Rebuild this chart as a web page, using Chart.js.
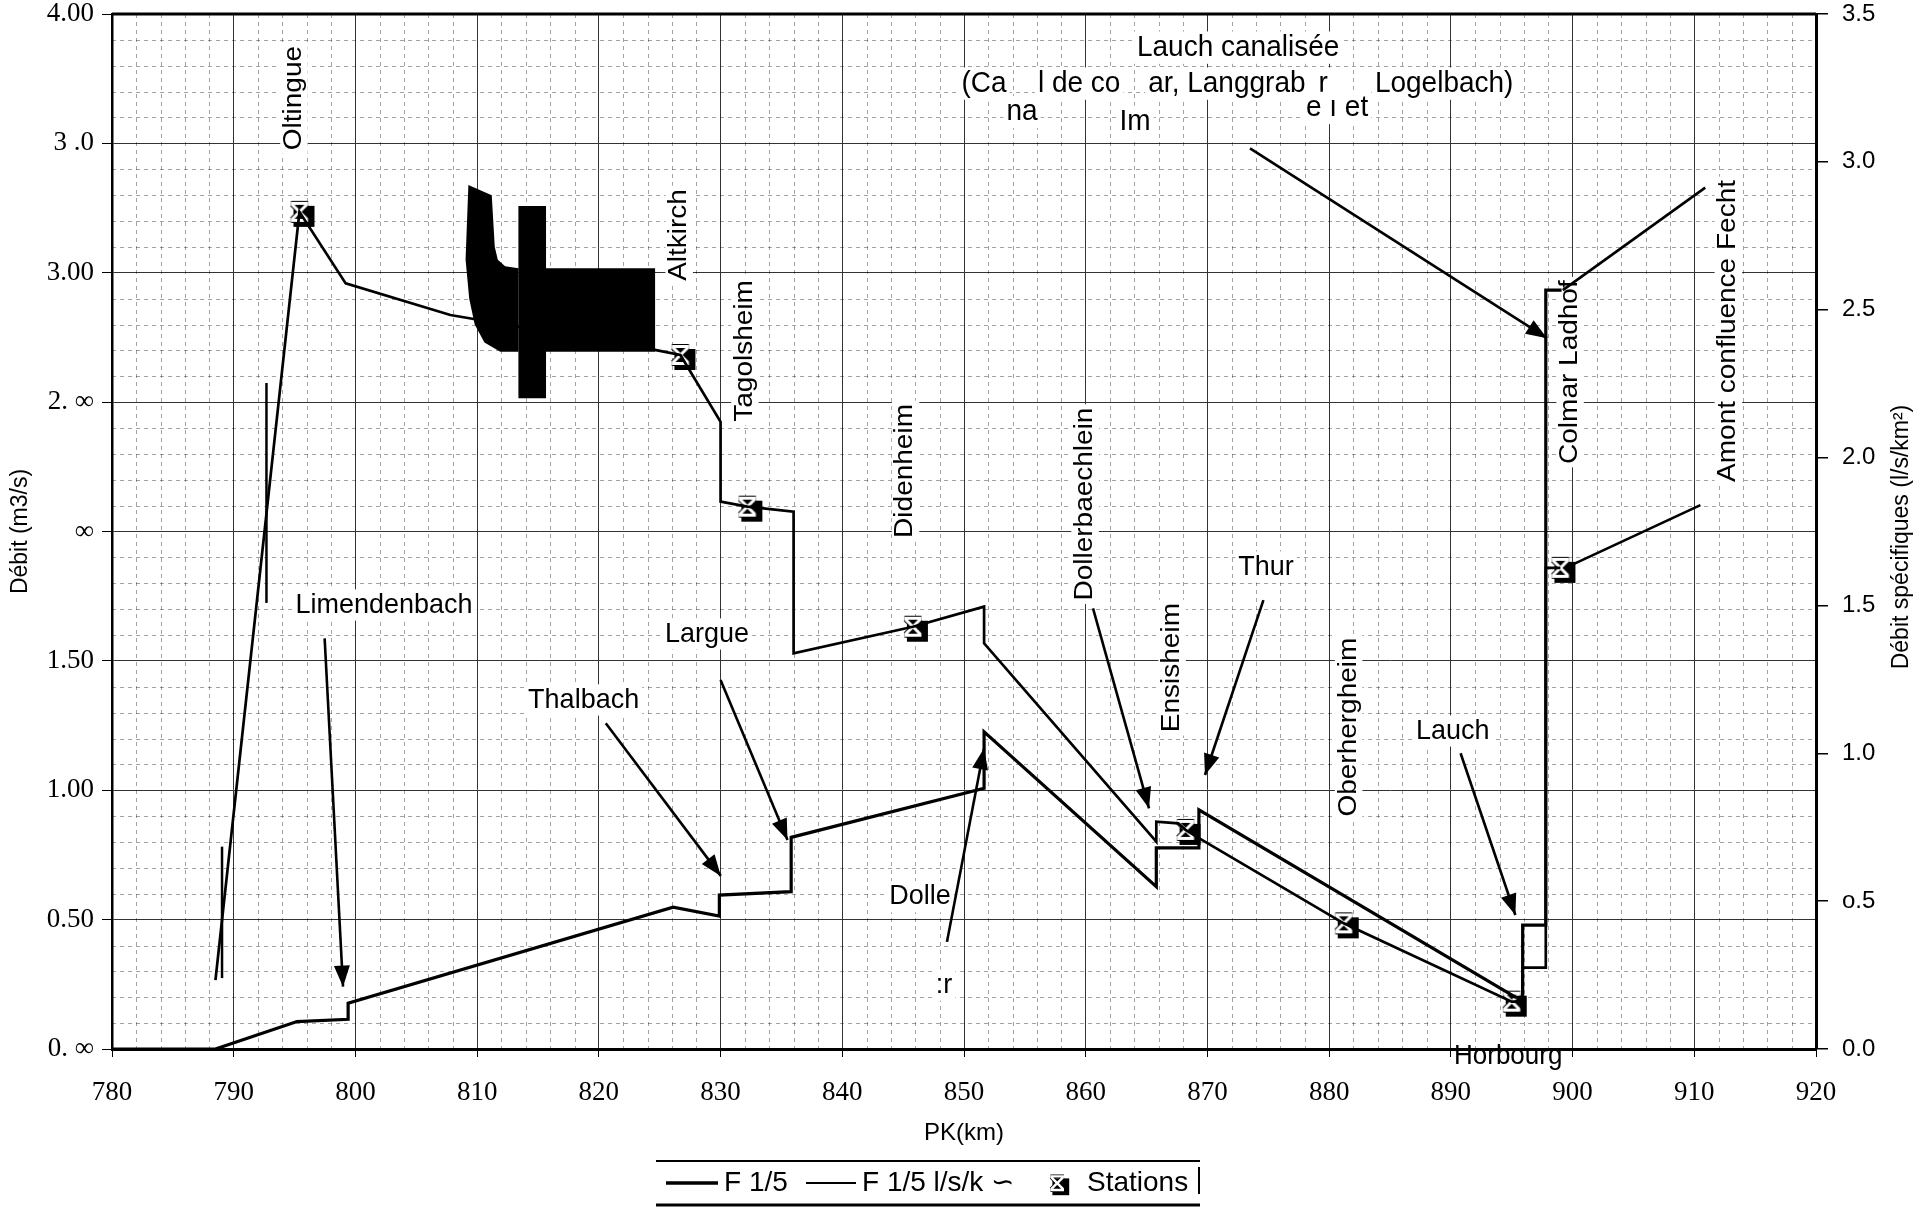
<!DOCTYPE html>
<html>
<head>
<meta charset="utf-8">
<script src="https://cdn.jsdelivr.net/npm/chart.js@4.4.1/dist/chart.umd.min.js"></script>
<style>
  html, body { margin: 0; padding: 0; background: #fff; }
  #wrap { width: 1923px; height: 1210px; }
</style>
</head>
<body>
<div id="wrap"><canvas id="chart" width="1923" height="1210"></canvas></div>
<script>
// F 1/5 en m3/s (axe de gauche)
const kmDebit = [780, 788.5, 795.2, 799.4, 799.4, 826.1, 829.9, 829.9, 835.8, 835.8, 851.65, 851.65, 865.8, 865.8, 869.3, 869.3, 895.3, 895.9, 895.9, 897.8, 897.8, 899.1];
const debit   = [0, 0, 0.106, 0.115, 0.177, 0.548, 0.514, 0.595, 0.608, 0.818, 1.008, 1.226, 0.627, 0.777, 0.777, 0.924, 0.20, 0.20, 0.479, 0.479, 2.933, 2.933];

// F 1/5 en l/s/km2 (axe de droite)
const kmSpec = [788.5, 795.4, 799.2, 807.8, 824.6, 826.7, 830.0, 830.0, 832.2, 836.0, 836.0, 845.8, 851.65, 851.65, 865.8, 865.8, 867.6, 868.2, 869.3, 881.2, 895.0, 895.9, 895.9, 897.8, 897.8, 899.0];
const debitSpec = [0.233, 2.831, 2.589, 2.482, 2.364, 2.347, 2.121, 1.851, 1.834, 1.817, 1.338, 1.428, 1.496, 1.372, 0.701, 0.769, 0.763, 0.741, 0.713, 0.425, 0.160, 0.160, 0.275, 0.275, 1.627, 1.627];

// stations
const stationNames = ['Oltingue', 'Altkirch', 'Tagolsheim', 'Didenheim', 'Ensisheim', 'Oberhergheim', 'Horbourg', 'Colmar Ladhof'];
const stationKm = [795.4, 826.7, 832.2, 845.8, 868.2, 881.2, 895.0, 899.0];
const stationVal = [2.831, 2.347, 1.834, 1.428, 0.741, 0.425, 0.160, 1.627];

// tick labels as printed
const leftTicks = ['0. ∞', '0.50', '1.00', '1.50', '∞', '2. ∞', '3.00', '3 .0', '4.00'];
const rightTicks = ['0.0', 'o.5', '1.0', '1.5', '2.0', '2.5', '3.0', '3.5'];

// vertical labels (km, m3/s)
const vLabels = ['Oltingue', 'Altkirch', 'Tagolsheim', 'Didenheim', 'Dollerbaechlein', 'Ensisheim', 'Oberhergheim', 'Colmar Ladhof', 'Amont confluence Fecht'];
const vLabelKm = [794.95, 826.6, 832.0, 845.2, 859.95, 867.1, 881.6, 899.8, 912.8];
const vLabelVal = [3.675, 3.146, 2.698, 2.234, 2.106, 1.474, 1.244, 2.616, 2.775];

// horizontal labels (km, m3/s)
const hLabels = ['Limendenbach', 'Thalbach', 'Largue', 'Dolle', ':r', 'Thur', 'Lauch', 'Lauch canalisée', '(Ca', 'l de co', 'ar, Langgrab', 'r', 'Logelbach)', 'na', 'Im', 'e ı et'];
const hLabelKm = [802.35, 818.75, 828.89, 846.39, 848.36, 874.82, 890.15, 872.52, 851.65, 859.46, 871.6, 879.5, 889.45, 854.77, 864.06, 880.65];
const hLabelVal = [1.716, 1.349, 1.604, 0.589, 0.247, 1.863, 1.229, 3.870, 3.731, 3.731, 3.731, 3.731, 3.731, 3.621, 3.583, 3.637];

// arrows [km, v] -> [km, v], head at the second point
const arrowsFrom = [[797.47, 1.587], [820.57, 1.259], [830.0, 1.426], [848.6, 0.414], [860.6, 1.703], [874.6, 1.735], [890.8, 1.143], [873.5, 3.481]];
const arrowsTo   = [[798.98, 0.241], [830.02, 0.669], [835.5, 0.808], [851.65, 1.162], [865.2, 0.930], [869.8, 1.059], [895.3, 0.518], [897.9, 2.747]];
// plain pointer lines (Amont confluence Fecht)
const pointersFrom = [[910.9, 3.329], [910.5, 2.102]];
const pointersTo   = [[899.2, 2.933], [899.9, 1.870]];

// scan blot and stray strokes
const blotShapes = [
  [[809.28, 3.339], [811.2, 3.30], [811.45, 3.10], [811.7, 3.05], [812.3, 3.025], [813.4, 3.017], [813.4, 2.695], [811.9, 2.695], [810.6, 2.73], [809.8, 2.80], [809.35, 2.90], [809.05, 3.05]],
  [[815.58, 3.017], [824.62, 3.017], [824.62, 2.695], [815.58, 2.695]],
  [[813.39, 3.258], [815.66, 3.258], [815.66, 2.515], [813.39, 2.515]]
];
const strayStrokes = [[792.69, 2.574, 1.724], [789.04, 0.782, 0.274]];

const SANS = '"Liberation Sans", Arial, sans-serif';
const SERIF = '"Liberation Serif", "Times New Roman", serif';

function makeMarker(scale) {
  const s = scale || 1;
  const c = document.createElement('canvas');
  c.width = Math.round(38 * s); c.height = Math.round(38 * s);
  const g = c.getContext('2d');
  g.scale(s, s);
  g.fillStyle = '#000';
  g.fillRect(13, 13, 21, 21);
  const cx = 19, cy = 19, arm = 7.5;
  const drawX = (w, col) => {
    g.strokeStyle = col; g.lineWidth = w;
    g.beginPath();
    g.moveTo(cx - arm, cy - arm); g.lineTo(cx + arm, cy + arm);
    g.moveTo(cx + arm, cy - arm); g.lineTo(cx - arm, cy + arm);
    g.moveTo(cx - arm - 1, cy - arm - 1); g.lineTo(cx + arm + 1, cy - arm - 1);
    g.moveTo(cx - arm - 1, cy + arm + 1); g.lineTo(cx + arm + 1, cy + arm + 1);
    g.stroke();
  };
  drawX(5, '#000');
  drawX(3, '#fff');
  return c;
}
const markerImg = makeMarker(1);
const legendMarker = makeMarker(0.8);

function textWithBox(ctx, txt, x, y, rotated, size, box, stretch) {
  ctx.save();
  ctx.translate(x, y);
  ctx.scale(1, stretch);
  if (rotated) ctx.rotate(-Math.PI / 2);
  ctx.font = size + 'px ' + SANS;
  ctx.textAlign = 'center';
  ctx.textBaseline = 'middle';
  const w = ctx.measureText(txt).width;
  if (box) {
    ctx.fillStyle = '#fff';
    ctx.fillRect(-w / 2 - 3, -size * 0.55, w + 6, size * 1.1);
  }
  ctx.fillStyle = '#000';
  ctx.fillText(txt, 0, 0);
  ctx.restore();
}

function arrow(ctx, x1, y1, x2, y2, head) {
  ctx.beginPath();
  ctx.moveTo(x1, y1);
  ctx.lineTo(x2, y2);
  ctx.stroke();
  if (!head) return;
  const ang = Math.atan2(y2 - y1, x2 - x1);
  const L = 21, H = 8;
  ctx.beginPath();
  ctx.moveTo(x2, y2);
  ctx.lineTo(x2 - L * Math.cos(ang) + H * Math.sin(ang), y2 - L * Math.sin(ang) - H * Math.cos(ang));
  ctx.lineTo(x2 - L * Math.cos(ang) - H * Math.sin(ang), y2 - L * Math.sin(ang) + H * Math.cos(ang));
  ctx.closePath();
  ctx.fill();
}

const plotDeco = {
  id: 'plotDeco',
  beforeDatasetsDraw(chart) {
    const { ctx, chartArea: a, scales: { x, y } } = chart;
    const px = k => x.getPixelForValue(k);
    const py = v => y.getPixelForValue(v);
    ctx.save();

    // minor dashed grid
    ctx.strokeStyle = 'rgba(0,0,0,0.36)';
    ctx.lineWidth = 1;
    ctx.setLineDash([4, 4]);
    ctx.beginPath();
    for (let k = 782; k < 920; k += 2) {
      if (k % 10 === 0) continue;
      const X = Math.round(px(k)) + 0.5;
      ctx.moveTo(X, a.top); ctx.lineTo(X, a.bottom);
    }
    for (let i = 1; i < 40; i++) {
      if (i % 5 === 0) continue;
      const Y = Math.round(py(i / 10)) + 0.5;
      ctx.moveTo(a.left, Y); ctx.lineTo(a.right, Y);
    }
    ctx.stroke();
    ctx.setLineDash([]);

    // labels
    vLabels.forEach((t, i) => textWithBox(ctx, t, px(vLabelKm[i]), py(vLabelVal[i]), true, 25, true, 1.12));
    hLabels.forEach((t, i) => {
      const top = hLabelVal[i] > 3.5;
      textWithBox(ctx, t, px(hLabelKm[i]), py(hLabelVal[i]), false, top ? 28 : 27, true, 1.05);
    });

    // blot
    ctx.fillStyle = '#000';
    blotShapes.forEach(shape => {
      ctx.beginPath();
      shape.forEach((p, j) => j ? ctx.lineTo(px(p[0]), py(p[1])) : ctx.moveTo(px(p[0]), py(p[1])));
      ctx.closePath();
      ctx.fill();
    });
    ctx.strokeStyle = '#000';
    ctx.lineWidth = 2.5;
    strayStrokes.forEach(s => {
      ctx.beginPath();
      ctx.moveTo(px(s[0]), py(s[1]));
      ctx.lineTo(px(s[0]), py(s[2]));
      ctx.stroke();
    });

    // arrows
    ctx.lineWidth = 2.6;
    arrowsFrom.forEach((f, i) => arrow(ctx, px(f[0]), py(f[1]), px(arrowsTo[i][0]), py(arrowsTo[i][1]), true));
    pointersFrom.forEach((f, i) => arrow(ctx, px(f[0]), py(f[1]), px(pointersTo[i][0]), py(pointersTo[i][1]), false));
    ctx.restore();
  },
  afterDraw(chart) {
    const { ctx, chartArea: a, scales: { x, y } } = chart;
    ctx.save();
    // top frame
    ctx.strokeStyle = '#000';
    ctx.lineWidth = 3;
    ctx.beginPath();
    ctx.moveTo(a.left, a.top); ctx.lineTo(a.right, a.top);
    ctx.stroke();

    // Horbourg sits on the axis
    textWithBox(ctx, 'Horbourg', x.getPixelForValue(894.71), y.getPixelForValue(-0.027), false, 26, false, 1.05);

    // right axis title
    ctx.save();
    ctx.translate(1902, 537);
    ctx.rotate(-Math.PI / 2);
    ctx.font = '23px ' + SANS;
    ctx.fillStyle = '#000';
    ctx.textAlign = 'center';
    ctx.textBaseline = 'middle';
    ctx.fillText('Débit spécifiques (l/s/km²)', 0, 0);
    ctx.restore();

    // legend
    const ds = chart.data.datasets;
    const ly = 1183;
    ctx.lineWidth = 2;
    ctx.beginPath();
    ctx.moveTo(656, 1161); ctx.lineTo(1200, 1161);
    ctx.stroke();
    ctx.lineWidth = 3;
    ctx.beginPath();
    ctx.moveTo(656, 1205); ctx.lineTo(1200, 1205);
    ctx.stroke();
    ctx.lineWidth = 2;
    ctx.beginPath();
    ctx.moveTo(1199, 1167); ctx.lineTo(1199, 1194);
    ctx.stroke();

    ctx.font = '28px ' + SANS;
    ctx.fillStyle = '#000';
    ctx.textBaseline = 'middle';
    ctx.textAlign = 'left';
    ctx.lineWidth = 3.5;
    ctx.beginPath(); ctx.moveTo(666, ly); ctx.lineTo(718, ly); ctx.stroke();
    ctx.fillText(ds[0].label, 724, ly);
    ctx.lineWidth = 2;
    ctx.beginPath(); ctx.moveTo(806, ly); ctx.lineTo(856, ly); ctx.stroke();
    ctx.fillText(ds[1].label, 862, ly);
    ctx.drawImage(legendMarker, 1057 - legendMarker.width / 2, ly - legendMarker.height / 2);
    ctx.fillText(ds[2].label, 1087, ly);
    ctx.restore();
  }
};

const ctx = document.getElementById('chart').getContext('2d');
new Chart(ctx, {
  type: 'line',
  data: {
    datasets: [
      {
        label: 'F 1/5',
        data: kmDebit.map((k, i) => ({ x: k, y: debit[i] })),
        yAxisID: 'y',
        borderColor: '#000',
        borderWidth: 3.2,
        pointRadius: 0,
        tension: 0,
        fill: false
      },
      {
        label: 'F 1/5 l/s/k ∽',
        data: kmSpec.map((k, i) => ({ x: k, y: debitSpec[i] })),
        yAxisID: 'y2',
        borderColor: '#000',
        borderWidth: 2.7,
        pointRadius: 0,
        tension: 0,
        fill: false
      },
      {
        label: 'Stations',
        data: stationKm.map((k, i) => ({ x: k, y: stationVal[i], name: stationNames[i] })),
        yAxisID: 'y2',
        showLine: false,
        pointStyle: markerImg,
        pointRadius: 10,
        clip: false
      }
    ]
  },
  options: {
    responsive: false,
    animation: false,
    layout: { padding: { top: 14, left: 0, right: 0, bottom: 0 } },
    plugins: { legend: { display: false }, tooltip: { enabled: false } },
    scales: {
      x: {
        type: 'linear',
        min: 780, max: 920,
        ticks: { stepSize: 10, color: '#000', font: { family: SERIF, size: 27 }, padding: 20, maxRotation: 0, callback: v => String(v) },
        grid: { color: '#333', lineWidth: 1, tickLength: 8, tickColor: '#000' },
        border: { color: '#000', width: 3 },
        title: { display: true, text: 'PK(km)', color: '#000', font: { family: SANS, size: 24 }, padding: { top: 0, bottom: 62 } },
        afterFit(s) { s.height = 161; s.paddingLeft = 0; s.paddingRight = 0; }
      },
      y: {
        position: 'left',
        min: 0, max: 4,
        ticks: { stepSize: 0.5, color: '#000', font: { family: SERIF, size: 27 }, padding: 8, callback: v => leftTicks[Math.round(v / 0.5)] },
        grid: { color: '#333', lineWidth: 1, tickLength: 10, tickColor: '#000' },
        border: { color: '#000', width: 2.5 },
        title: { display: true, text: 'Débit (m3/s)', color: '#000', font: { family: SANS, size: 23 }, padding: { top: 7, bottom: 0 } },
        afterFit(s) { s.width = 112; s.paddingTop = 0; s.paddingBottom = 0; }
      },
      y2: {
        position: 'right',
        min: 0, max: 3.5,
        ticks: { stepSize: 0.5, color: '#000', font: { family: SANS, size: 24 }, padding: 14, callback: v => rightTicks[Math.round(v / 0.5)] },
        grid: { drawOnChartArea: false, tickLength: 12, color: '#000', lineWidth: 1.5 },
        border: { color: '#000', width: 3 },
        afterFit(s) { s.width = 107; s.paddingTop = 0; s.paddingBottom = 0; }
      }
    }
  },
  plugins: [plotDeco]
});
</script>
</body>
</html>
